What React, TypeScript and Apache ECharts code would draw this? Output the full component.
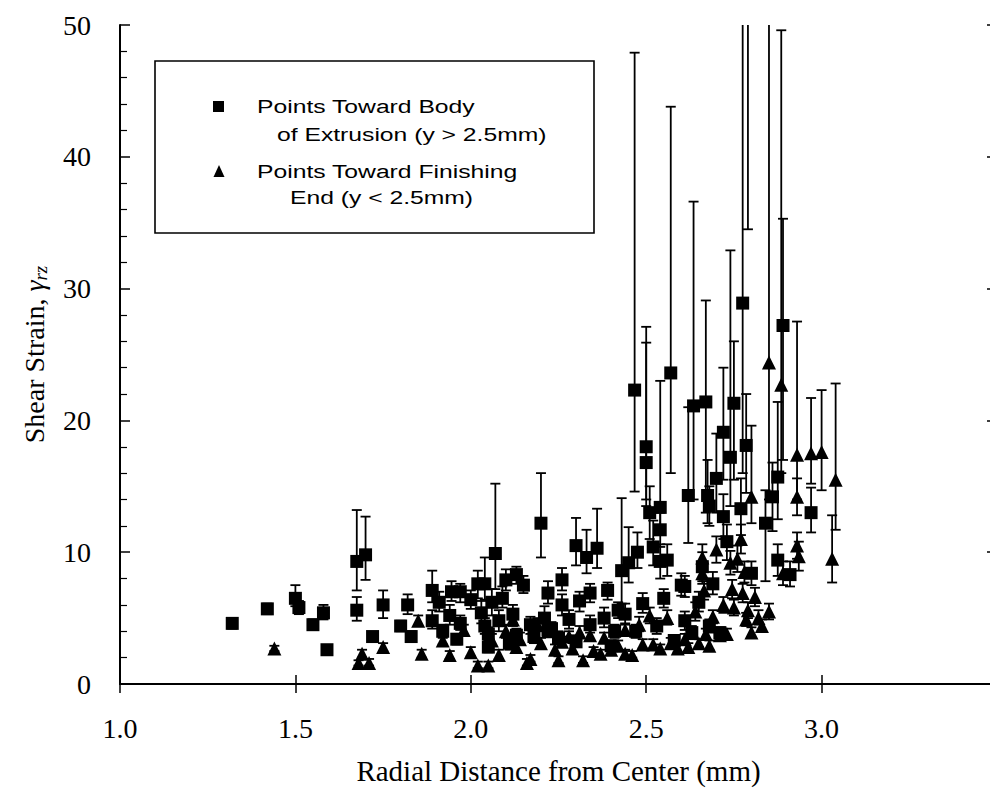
import React, { useEffect, useRef } from "react";
import * as echarts from "echarts";

// [x (mm), shear strain, lower error, upper error]
const bodyPoints: number[][] = [
  [1.32, 4.6, 4.2, 5.0], [1.42, 5.7, 5.3, 6.1], [1.50, 6.5, 5.9, 7.5], [1.51, 5.8, 5.3, 6.3],
  [1.55, 4.5, 4.1, 4.9], [1.58, 5.4, 4.9, 6.0], [1.59, 2.6, 2.3, 2.9], [1.675, 9.3, 7.1, 13.2],
  [1.70, 9.8, 7.9, 12.7], [1.675, 5.6, 4.8, 6.6], [1.72, 3.6, 3.3, 3.9], [1.75, 6.0, 5.0, 7.1],
  [1.80, 4.4, 4.0, 4.8], [1.82, 6.0, 5.3, 6.8], [1.83, 3.6, 3.3, 4.0], [1.89, 7.1, 6.2, 8.6],
  [1.89, 4.8, 4.2, 5.6], [1.91, 6.2, 5.5, 7.0], [1.92, 4.0, 3.5, 4.5], [1.94, 5.2, 4.5, 6.0],
  [1.945, 7.0, 6.3, 7.8], [1.97, 4.6, 4.1, 5.2], [1.97, 7.0, 6.2, 7.6], [2.00, 6.4, 5.7, 7.1],
  [2.02, 7.6, 6.5, 8.6], [2.03, 5.4, 4.6, 6.3], [2.04, 7.6, 6.4, 9.6], [2.04, 4.4, 3.8, 5.0],
  [2.05, 3.8, 3.3, 4.3], [2.06, 6.2, 5.2, 7.2], [2.07, 9.9, 7.2, 15.2], [2.08, 4.8, 4.0, 5.6],
  [2.09, 6.5, 5.8, 7.4], [2.10, 7.9, 7.1, 8.7], [2.11, 3.1, 2.6, 3.6], [2.12, 5.3, 4.6, 6.0],
  [2.13, 8.3, 7.6, 8.9], [2.15, 7.5, 6.9, 8.2], [2.17, 4.5, 3.8, 5.1], [2.18, 3.6, 3.1, 4.2],
  [2.20, 12.2, 9.6, 16.0], [2.21, 5.0, 4.3, 5.9], [2.22, 6.9, 6.1, 7.8], [2.23, 4.2, 3.6, 4.7],
  [2.25, 3.5, 3.0, 4.0], [2.26, 7.9, 7.1, 8.8], [2.26, 6.0, 5.2, 6.8], [2.28, 4.9, 4.2, 5.6],
  [2.30, 10.5, 9.0, 12.6], [2.31, 6.3, 5.5, 7.0], [2.33, 9.6, 8.4, 11.7], [2.34, 6.9, 6.2, 7.6],
  [2.34, 4.5, 3.9, 5.2], [2.36, 10.3, 8.8, 13.3], [2.38, 5.0, 4.3, 5.8], [2.39, 7.1, 6.4, 7.7],
  [2.41, 4.0, 3.5, 4.5], [2.42, 5.6, 5.0, 6.2], [2.43, 8.6, 6.1, 14.1], [2.44, 5.3, 4.6, 6.1],
  [2.45, 9.2, 7.7, 11.9], [2.467, 22.3, 14.6, 47.9], [2.475, 10.0, 8.8, 11.5], [2.49, 6.1, 5.4, 6.9],
  [2.50, 18.0, 14.0, 27.1], [2.50, 16.8, 13.5, 25.9], [2.51, 13.0, 11.0, 15.0], [2.52, 10.4, 9.0, 12.4],
  [2.53, 4.4, 3.8, 5.0], [2.54, 13.4, 11.8, 23.0], [2.54, 11.7, 10.4, 13.0], [2.54, 9.3, 8.0, 10.6],
  [2.55, 6.5, 5.8, 7.2], [2.56, 9.4, 8.2, 10.6], [2.57, 23.6, 16.0, 43.8], [2.58, 3.3, 2.9, 3.7],
  [2.60, 7.5, 6.7, 8.4], [2.61, 4.8, 4.1, 5.5], [2.61, 7.4, 6.6, 8.2], [2.62, 14.3, 10.7, 21.0],
  [2.635, 21.1, 14.0, 36.6], [2.65, 6.2, 5.5, 7.0], [2.66, 8.9, 7.8, 10.0], [2.67, 21.4, 13.0, 29.1],
  [2.675, 14.3, 12.2, 17.0], [2.68, 13.5, 12.0, 15.0], [2.69, 7.6, 6.8, 8.5], [2.70, 15.6, 13.0, 19.0],
  [2.72, 19.1, 15.5, 24.0], [2.72, 12.7, 11.0, 14.4], [2.73, 10.8, 9.4, 12.1], [2.74, 17.2, 13.5, 32.9],
  [2.75, 21.3, 15.5, 26.0], [2.77, 13.3, 11.3, 15.6], [2.775, 28.9, 16.0, 62.0], [2.785, 18.1, 14.5, 22.0],
  [2.79, 58.0, 34.5, 80.0], [2.80, 8.4, 7.5, 9.3], [2.84, 12.2, 7.8, 14.7], [2.86, 14.2, 11.6, 16.8],
  [2.875, 9.4, 8.2, 10.6], [2.875, 15.7, 12.5, 21.4], [2.89, 27.2, 17.0, 35.3], [2.91, 8.3, 7.4, 9.3],
  [2.97, 13.0, 11.5, 14.9], [2.71, 3.9, 3.5, 4.3], [2.68, 4.4, 3.9, 4.9], [2.63, 3.9, 3.4, 4.4],
  [2.47, 4.0, 3.5, 4.5], [2.40, 2.9, 2.5, 3.3], [2.30, 3.2, 2.8, 3.7], [2.22, 4.1, 3.6, 4.6],
  [2.13, 3.7, 3.2, 4.2], [2.05, 2.8, 2.4, 3.2], [1.96, 3.4, 3.0, 3.8],
];

const finishPoints: number[][] = [
  [1.44, 2.7, 2.5, 2.9], [1.68, 1.6, 1.4, 1.8], [1.69, 2.3, 2.0, 2.6], [1.71, 1.6, 1.4, 1.9],
  [1.75, 2.8, 2.5, 3.1], [1.85, 4.8, 4.4, 5.2], [1.86, 2.3, 2.0, 2.6], [1.92, 3.3, 3.0, 3.7],
  [1.94, 2.2, 1.9, 2.5], [1.98, 4.1, 3.7, 4.5], [2.00, 2.4, 2.1, 2.8], [2.02, 1.4, 1.2, 1.7],
  [2.05, 1.4, 1.2, 1.7], [2.06, 3.3, 2.9, 3.8], [2.08, 2.2, 1.9, 2.6], [2.10, 4.0, 3.5, 4.5],
  [2.12, 4.9, 4.4, 5.4], [2.13, 2.8, 2.4, 3.2], [2.14, 3.4, 3.0, 3.9], [2.16, 1.6, 1.4, 1.9],
  [2.17, 1.9, 1.7, 2.2], [2.19, 4.5, 4.0, 5.0], [2.20, 3.1, 2.7, 3.5], [2.22, 4.0, 3.6, 4.4],
  [2.24, 2.6, 2.3, 3.0], [2.25, 1.8, 1.6, 2.1], [2.26, 3.2, 2.8, 3.6], [2.28, 3.6, 3.2, 4.0],
  [2.29, 2.7, 2.4, 3.1], [2.31, 3.9, 3.5, 4.4], [2.32, 1.8, 1.6, 2.1], [2.34, 3.7, 3.3, 4.1],
  [2.35, 2.5, 2.2, 2.8], [2.37, 2.3, 2.0, 2.6], [2.38, 3.5, 3.1, 3.9], [2.40, 2.6, 2.3, 2.9],
  [2.42, 2.9, 2.6, 3.3], [2.44, 4.1, 3.7, 4.5], [2.44, 2.3, 2.0, 2.6], [2.46, 2.2, 2.0, 2.5],
  [2.48, 4.5, 4.0, 5.1], [2.49, 3.0, 2.7, 3.4], [2.51, 5.2, 4.6, 5.8], [2.52, 3.0, 2.7, 3.4],
  [2.54, 2.7, 2.4, 3.0], [2.56, 5.0, 4.5, 5.6], [2.57, 3.1, 2.8, 3.5], [2.59, 2.7, 2.4, 3.0],
  [2.61, 3.4, 3.0, 3.8], [2.62, 2.8, 2.5, 3.1], [2.64, 5.5, 4.8, 6.2], [2.65, 3.1, 2.8, 3.4],
  [2.66, 9.6, 8.6, 10.6], [2.66, 8.4, 7.6, 9.2], [2.665, 7.1, 6.4, 7.8], [2.67, 3.8, 3.4, 4.2],
  [2.68, 2.9, 2.6, 3.3], [2.69, 5.1, 4.6, 5.6], [2.70, 10.2, 9.2, 11.2], [2.71, 3.7, 3.3, 4.1],
  [2.72, 6.0, 5.4, 6.6], [2.73, 3.8, 3.4, 4.2], [2.74, 9.2, 8.3, 10.1], [2.745, 7.2, 6.5, 7.9],
  [2.75, 5.8, 5.2, 6.4], [2.76, 9.5, 8.5, 10.5], [2.77, 11.0, 9.9, 12.1], [2.775, 6.9, 6.2, 7.6],
  [2.78, 8.5, 7.7, 9.3], [2.785, 4.9, 4.4, 5.4], [2.79, 5.6, 5.0, 6.2], [2.80, 14.2, 12.2, 19.6],
  [2.80, 3.9, 3.5, 4.3], [2.81, 6.6, 5.9, 7.3], [2.82, 5.0, 4.5, 5.6], [2.83, 4.4, 4.0, 4.9],
  [2.85, 24.4, 14.0, 60.0], [2.85, 5.5, 4.9, 6.1], [2.885, 22.7, 16.0, 49.6], [2.89, 8.4, 7.5, 9.3],
  [2.93, 17.4, 14.0, 27.5], [2.93, 14.2, 12.8, 15.6], [2.93, 10.5, 9.5, 11.5], [2.935, 9.7, 8.6, 10.8],
  [2.97, 17.5, 15.2, 21.7], [3.00, 17.6, 14.7, 22.3], [3.03, 9.5, 7.7, 12.8], [3.04, 15.5, 11.7, 22.8],
];

const xTicks = [1.0, 1.5, 2.0, 2.5, 3.0, 3.5];
const yTicks = [0, 10, 20, 30, 40, 50];

const legendLines = [
  "Points Toward Body",
  "of Extrusion (y > 2.5mm)",
  "Points Toward Finishing",
  "End (y < 2.5mm)",
];

const errorRender = (params: any, api: any) => {
  const x = api.value(0);
  const lo = api.coord([x, api.value(2)]);
  const hi = api.coord([x, api.value(3)]);
  const cap = 5;
  const style = { stroke: "#000", lineWidth: 1.8 };
  return {
    type: "group",
    children: [
      { type: "line", shape: { x1: lo[0], y1: lo[1], x2: hi[0], y2: hi[1] }, style },
      { type: "line", shape: { x1: hi[0] - cap, y1: hi[1], x2: hi[0] + cap, y2: hi[1] }, style },
      { type: "line", shape: { x1: lo[0] - cap, y1: lo[1], x2: lo[0] + cap, y2: lo[1] }, style },
    ],
  };
};

export default function App() {
  const ref = useRef<HTMLDivElement>(null);
  useEffect(() => {
    if (!ref.current) return;
    const chart = echarts.init(ref.current, null, { renderer: "svg" });
    const serif = "Liberation Serif, Times New Roman, serif";
    const sans = "Liberation Sans, Arial, sans-serif";
    const axisLine = { show: true, lineStyle: { color: "#000", width: 2 } };
    const legendText = (x: number, y: number, text: string) => ({
      type: "text",
      x,
      y,
      scaleX: 1.3,
      style: { text, font: `19px ${sans}`, fill: "#000", verticalAlign: "middle" },
      z: 11,
    });
    chart.setOption({
      animation: false,
      backgroundColor: "#fff",
      grid: { left: 120, right: 3, top: 25, bottom: 108, containLabel: false },
      xAxis: [
        {
          type: "value",
          min: xTicks[0],
          max: xTicks[xTicks.length - 1],
          interval: 0.5,
          name: "Radial Distance from Center (mm)",
          nameLocation: "middle",
          nameGap: 72,
          nameTextStyle: { fontFamily: serif, fontSize: 29, color: "#000" },
          axisLine,
          axisTick: { inside: true, length: 9, lineStyle: { color: "#000", width: 1.5 } },
          axisLabel: {
            fontFamily: serif,
            fontSize: 28,
            color: "#000",
            margin: 30,
            formatter: (v: number) => (v >= 3.49 ? "" : v.toFixed(1)),
          },
          splitLine: { show: false },
        },
        {
          type: "value",
          position: "top",
          min: xTicks[0],
          max: xTicks[xTicks.length - 1],
          interval: 0.5,
          axisLine,
          axisTick: { inside: true, length: 9, lineStyle: { color: "#000", width: 1.5 } },
          axisLabel: { show: false },
          splitLine: { show: false },
        },
      ],
      yAxis: [
        {
          type: "value",
          min: yTicks[0],
          max: yTicks[yTicks.length - 1],
          interval: 10,
          name: "{t|Shear Strain, }{g|γ}{s|rz}",
          nameLocation: "middle",
          nameGap: 70,
          nameTextStyle: {
            fontFamily: serif,
            fontSize: 28,
            color: "#000",
            rich: {
              t: { fontFamily: serif, fontSize: 28, color: "#000" },
              g: { fontFamily: serif, fontSize: 28, fontStyle: "italic", color: "#000" },
              s: {
                fontFamily: serif,
                fontSize: 19,
                fontStyle: "italic",
                color: "#000",
                verticalAlign: "bottom",
                padding: [12, 0, 0, 0],
              },
            },
          },
          axisLine,
          axisTick: { inside: true, length: 10, lineStyle: { color: "#000", width: 1.5 } },
          minorTick: { show: true, splitNumber: 5, length: 7, lineStyle: { color: "#000", width: 1.2 } },
          axisLabel: { fontFamily: serif, fontSize: 28, color: "#000", margin: 29 },
          splitLine: { show: false },
        },
        {
          type: "value",
          position: "right",
          min: yTicks[0],
          max: yTicks[yTicks.length - 1],
          interval: 10,
          axisLine,
          axisTick: { inside: true, length: 10, lineStyle: { color: "#000", width: 1.5 } },
          axisLabel: { show: false },
          splitLine: { show: false },
        },
      ],
      series: [
        {
          type: "custom",
          name: "bodyErr",
          renderItem: errorRender,
          data: bodyPoints,
          encode: { x: 0, y: [2, 3] },
          clip: true,
          z: 2,
        },
        {
          type: "custom",
          name: "finishErr",
          renderItem: errorRender,
          data: finishPoints,
          encode: { x: 0, y: [2, 3] },
          clip: true,
          z: 2,
        },
        {
          type: "scatter",
          name: "Points Toward Body of Extrusion (y > 2.5mm)",
          data: bodyPoints.map((p) => [p[0], p[1]]),
          symbol: "rect",
          symbolSize: 13,
          itemStyle: { color: "#000", opacity: 1 },
          clip: true,
          z: 3,
        },
        {
          type: "scatter",
          name: "Points Toward Finishing End (y < 2.5mm)",
          data: finishPoints.map((p) => [p[0], p[1]]),
          symbol: "triangle",
          symbolSize: 14,
          itemStyle: { color: "#000", opacity: 1 },
          clip: true,
          z: 3,
        },
      ],
      graphic: [
        {
          type: "rect",
          shape: { x: 155, y: 61, width: 439, height: 172 },
          style: { fill: "#fff", stroke: "#000", lineWidth: 1.6 },
          z: 10,
        },
        {
          type: "rect",
          shape: { x: 213, y: 101, width: 11, height: 11 },
          style: { fill: "#000" },
          z: 11,
        },
        {
          type: "polygon",
          shape: { points: [[219, 165], [213.5, 177], [224.5, 177]] },
          style: { fill: "#000" },
          z: 11,
        },
        legendText(257, 107, legendLines[0]),
        legendText(277, 135, legendLines[1]),
        legendText(257, 172, legendLines[2]),
        legendText(290, 198, legendLines[3]),
      ],
    });
    return () => chart.dispose();
  }, []);

  return (
    <div
      style={{
        position: "fixed",
        left: 0,
        top: 0,
        width: 990,
        height: 792,
        overflow: "hidden",
        background: "#fff",
      }}
    >
      <div ref={ref} style={{ width: 1000, height: 792 }} />
    </div>
  );
}
